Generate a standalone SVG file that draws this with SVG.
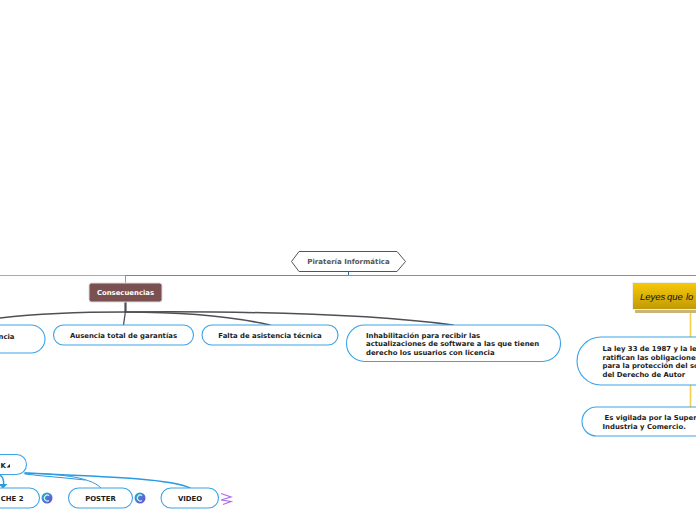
<svg xmlns="http://www.w3.org/2000/svg" width="696" height="520" viewBox="0 0 696 520">
<style>
text{font-family:"DejaVu Sans",Verdana,sans-serif;font-weight:700;font-size:6.9px;fill:#1c1c1c}
.n{fill:#fff;stroke:#3ba3e6;stroke-width:1.1}
.d{fill:none;stroke:#4f4f55;stroke-linecap:round}
.b{fill:none;stroke:#2a9be2;stroke-linecap:round}
.y{fill:none;stroke:#f5cf4b;stroke-width:1.6}
</style>
<defs>
<linearGradient id="g" x1="0" y1="0" x2="0" y2="1"><stop offset="0" stop-color="#f7c90a"/><stop offset="1" stop-color="#c09a06"/></linearGradient>
<linearGradient id="c" x1="0" y1="0" x2="1" y2="1"><stop offset="0" stop-color="#1fb5c9"/><stop offset="1" stop-color="#7a3fe0"/></linearGradient>
</defs>
<g id="connectors">
<path d="M0 275.500H125" fill="none" stroke="#d39a9a" stroke-width="1.200"/>
<path d="M125 275.500H348" fill="none" stroke="#957c7c" stroke-width="1.200"/>
<path d="M348 275.500H696" fill="none" stroke="#7f93a8" stroke-width="1.200"/>
<path d="M348.500 271V275" stroke="#2f6fa8" stroke-width="1" fill="none"/>
<path d="M125.500 276V283" stroke="#999" stroke-width="1" fill="none"/>
<path class="d" stroke-width="2.200" d="M125.500 302V312"/>
<path class="d" stroke-width="1.300" d="M125.500 311L123.500 325"/>
<path class="d" stroke-width="1.600" d="M125.500 312C85 312 35 314 0 318"/>
<path class="d" stroke-width="1.500" d="M125.500 312C180 312 230 316 270 325"/>
<path class="d" stroke-width="1.500" d="M125.500 312C250 311 370 314 453 325"/>
<path class="y" d="M690.500 283V337M690.500 385V407"/>
<path class="b" stroke-width="1.500" d="M0 475C3 477 4 481 3.500 485"/>
<path class="b" stroke-width="1" d="M25 473C55 474 90 476 101 488"/>
<path class="b" stroke-width="1.600" d="M25 473C90 476 170 478 190 488"/>
<path class="b" stroke-width="1.200" d="M25 474C50 477 70 478 85 480"/>
<path d="M-1 484H7.500L3 488.500Z" fill="#2a9be2"/>
</g>
<g id="root"><path d="M299 251.500H397L405.500 261.500L397 271.500H299L291.500 261.500Z" fill="#fff" stroke="#555" stroke-width="1"/><text x="348.500" y="264" text-anchor="middle" style="fill:#555;font-size:7px">Piratería Informática</text></g>
<g id="consecuencias"><rect x="89" y="283" width="73" height="19" rx="2.500" fill="#7a5050" stroke="#ddd" stroke-width="1"/><text x="125.500" y="295" text-anchor="middle" style="fill:#fff">Consecuencias</text></g>
<g id="n-left"><rect x="-60" y="325" width="105" height="28" rx="14" class="n"/><text x="14.500" y="338.500" text-anchor="end">ncia</text></g>
<g id="n-garantias"><rect x="53.500" y="325" width="140" height="20" rx="10" class="n"/><text x="123.500" y="338" text-anchor="middle">Ausencia total de garantías</text></g>
<g id="n-asistencia"><rect x="202" y="325" width="136" height="20" rx="10" class="n"/><text x="270" y="338" text-anchor="middle">Falta de asistencia técnica</text></g>
<g id="n-inhab"><rect x="346.500" y="325" width="214" height="36.500" rx="18" class="n"/><text x="366" y="338">Inhabilitación para recibir las</text><text x="366" y="346">actualizaciones de software a las que tienen</text><text x="366" y="355">derecho los usuarios con licencia</text></g>
<g id="leyes"><rect x="635" y="286" width="70" height="27" fill="#c9b57c"/><rect x="632.500" y="282.500" width="70" height="27" fill="url(#g)" stroke="#eee" stroke-width="1"/><text y="300" style="font-family:'Liberation Sans',sans-serif;font-style:italic;font-weight:400;font-size:9.500px;fill:#111"><tspan x="640">Leyes</tspan> <tspan x="667">que</tspan> <tspan x="686">lo</tspan></text></g>
<g id="n-ley"><rect x="577" y="337" width="180" height="48" rx="24" class="n"/><text x="602.500" y="351">La ley 33 de 1987 y la ley</text><text x="602.500" y="360">ratifican las obligaciones</text><text x="602.500" y="368">para la protección del soporte</text><text x="602.500" y="377">del Derecho de Autor</text></g>
<g id="n-vigilada"><rect x="582" y="407" width="170" height="29" rx="14.500" class="n"/><text x="604.500" y="420"> Es vigilada por la Superintendencia</text><text x="602.500" y="429">Industria y Comercio.</text></g>
<g id="n-k"><rect x="-60" y="454.500" width="86.500" height="20" rx="10" class="n"/><text x="0.500" y="467.500">K</text><path d="M6.500 467.500H10V464Z" fill="#222"/></g>
<g id="n-che"><rect x="-50" y="488" width="89.500" height="20" rx="10" class="n"/><text x="23.500" y="501" text-anchor="end">CHE 2</text><circle cx="47" cy="498" r="5.500" fill="url(#c)"/><path d="M49 495.500A3 3 0 1 0 49 500.500" fill="none" stroke="#cfe" stroke-width="1.100"/></g>
<g id="n-poster"><rect x="68.500" y="488" width="64" height="20" rx="10" class="n"/><text x="100.500" y="501" text-anchor="middle">POSTER</text><circle cx="140" cy="498" r="5.500" fill="url(#c)"/><path d="M142 495.500A3 3 0 1 0 142 500.500" fill="none" stroke="#cfe" stroke-width="1.100"/></g>
<g id="n-video"><rect x="161" y="488" width="57.500" height="20" rx="10" class="n"/><text x="190" y="501" text-anchor="middle">VIDEO</text><path d="M221 493.500L231 497L221 500L231 501.500L223 504.500" fill="none" stroke="#b06ae8" stroke-width="1.200"/></g>
</svg>
